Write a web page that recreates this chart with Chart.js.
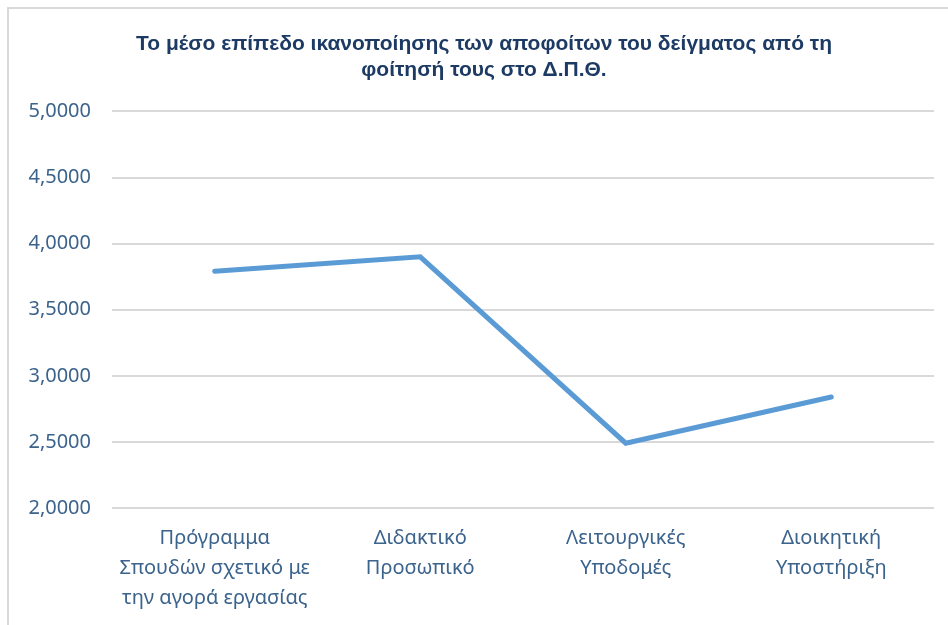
<!DOCTYPE html>
<html>
<head>
<meta charset="utf-8">
<script src="https://cdn.jsdelivr.net/npm/chart.js@4"></script>
<style>
  html, body { margin: 0; padding: 0; background: #ffffff; }
  #wrap { position: relative; width: 948px; height: 625px; overflow: hidden; }
  #frame { position: absolute; left: 7px; top: 7px; width: 960px; height: 640px;
           border-left: 2px solid #d9d9d9; border-top: 2px solid #d9d9d9; pointer-events: none; }
  canvas { position: absolute; left: 0; top: 0; }
</style>
</head>
<body>
<div id="wrap">
  <canvas id="c" width="948" height="625"></canvas>
  <div id="frame"></div>
</div>
<script>
const titleLines = [
  "Το μέσο επίπεδο ικανοποίησης των αποφοίτων του δείγματος από τη",
  "φοίτησή τους στο Δ.Π.Θ."
];
const categories = [
  ["Πρόγραμμα", "Σπουδών σχετικό με", "την αγορά εργασίας"],
  ["Διδακτικό", "Προσωπικό"],
  ["Λειτουργικές", "Υποδομές"],
  ["Διοικητική", "Υποστήριξη"]
];
const satisfaction = [3.79, 3.90, 2.49, 2.84];
const yMin = 2, yMax = 5, yStep = 0.5;

const tickColor = "#3b638c";

const shiftTitle = {
  id: "shiftTitle",
  afterLayout(chart) {
    if (chart.titleBlock) chart.titleBlock.left += 34;
  }
};

new Chart(document.getElementById("c"), {
  type: "line",
  data: {
    labels: categories,
    datasets: [{
      data: satisfaction,
      borderColor: "#5b9bd5",
      borderWidth: 5,
      borderCapStyle: "round",
      borderJoinStyle: "miter",
      pointRadius: 0,
      tension: 0,
      fill: false
    }]
  },
  plugins: [shiftTitle],
  options: {
    responsive: false,
    animation: false,
    layout: { padding: { left: 0, right: 14, top: 0, bottom: 0 } },
    plugins: {
      legend: { display: false },
      tooltip: { enabled: false },
      title: {
        display: true,
        text: titleLines,
        color: "#1c3a63",
        font: { family: "'Liberation Sans', Arial, sans-serif", size: 21, weight: "bold", lineHeight: 1.2 },
        padding: { top: 32, bottom: 29 }
      }
    },
    scales: {
      x: {
        offset: true,
        grid: { display: false, drawTicks: false },
        border: { display: false },
        ticks: {
          color: tickColor,
          font: { family: "'Noto Sans', sans-serif", size: 20, lineHeight: 1.5 },
          padding: 15,
          maxRotation: 0,
          autoSkip: false
        },
        afterFit: s => { s.height = 117; }
      },
      y: {
        min: yMin,
        max: yMax,
        grid: { color: "#d9d9d9", lineWidth: 2, drawTicks: false },
        border: { display: false },
        ticks: {
          stepSize: yStep,
          color: tickColor,
          font: { family: "'Noto Sans', sans-serif", size: 20 },
          padding: 21,
          callback: v => Number(v).toFixed(4).replace(".", ",")
        },
        afterFit: s => { s.width = 112; }
      }
    }
  }
});
</script>
</body>
</html>
